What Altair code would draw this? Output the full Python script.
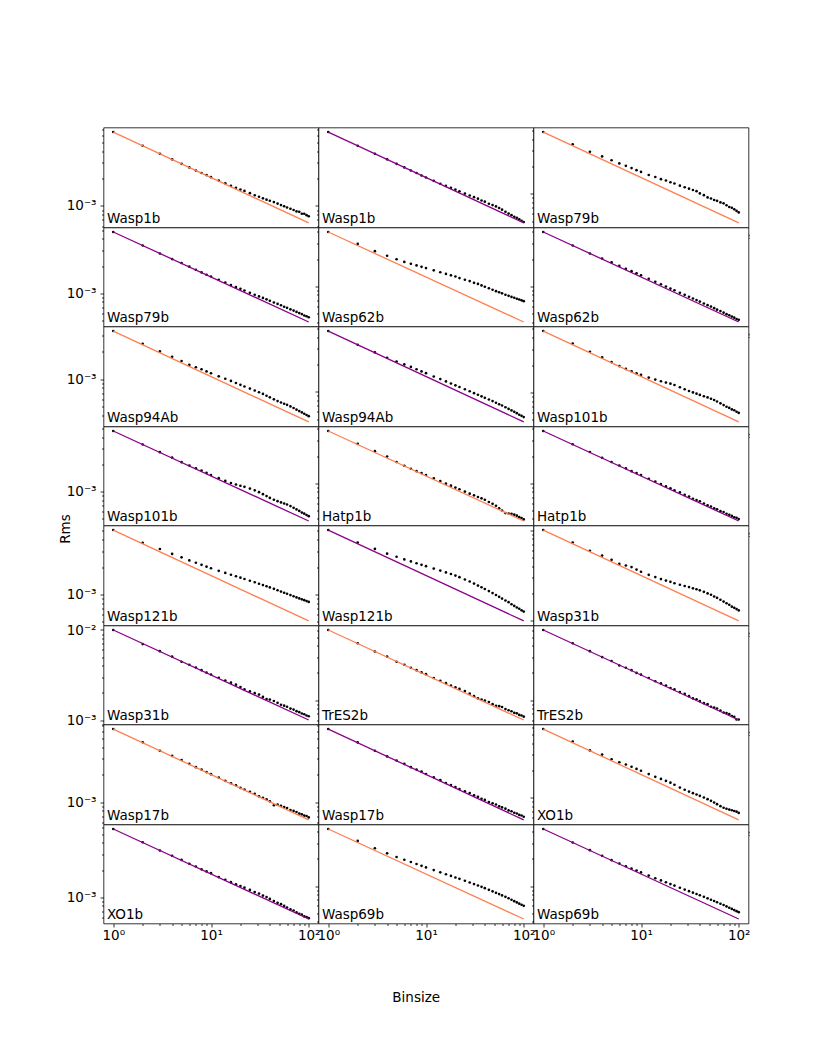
import altair as alt
import numpy as np
import pandas as pd

# ---------------- data (rms values in units of 1e-4) ----------------
binsize = [1, 2, 3, 4, 5, 6, 7, 8, 9, 10, 12, 14, 16, 18, 20, 22, 25, 28, 31, 34,
           37, 40, 44, 48, 52, 56, 60, 65, 70, 75, 80, 85, 90, 95, 100]

names = ["Wasp1b", "Wasp1b", "Wasp79b", "Wasp79b", "Wasp62b", "Wasp62b",
         "Wasp94Ab", "Wasp94Ab", "Wasp101b", "Wasp101b", "Hatp1b", "Hatp1b",
         "Wasp121b", "Wasp121b", "Wasp31b", "Wasp31b", "TrES2b", "TrES2b",
         "Wasp17b", "Wasp17b", "XO1b", "XO1b", "Wasp69b", "Wasp69b"]

line_colors = ["#ff7f50", "#8b008b"] * 12

# white-noise expectation line: value at binsize 1 and at binsize 100
line_start = [64.9, 64.9, 47.8, 47.8, 40.0, 40.0, 33.7, 46.6, 47.4, 47.4, 38.0, 38.0,
              51.2, 51.2, 100.0, 100.0, 60.0, 60.0, 63.7, 63.7, 57.1, 57.1, 43.0, 43.0]
line_end = [6.49, 6.49, 4.78, 4.78, 4.0, 4.0, 3.37, 4.66, 4.74, 4.74, 3.8, 3.8,
            5.12, 5.12, 10.0, 10.0, 6.0, 6.0, 6.37, 6.37, 5.71, 5.71, 4.3, 4.3]

rms_01 = [64.9, 45.9, 37.5, 32.5, 29.0, 26.5, 24.5, 23.0, 21.8, 20.7, 19.0, 17.7, 16.6, 15.8, 15.1, 14.6, 13.8, 13.1,
          12.6, 12.1, 11.7, 11.4, 11.0, 10.6, 10.2, 9.9, 9.6, 9.3, 9.0, 8.7, 8.6, 8.2, 8.2, 7.9, 7.7]
rms_02 = [64.9, 45.9, 37.5, 32.5, 29.0, 26.5, 24.5, 23.0, 21.6, 20.5, 18.85, 17.5, 16.6, 15.8, 15.1, 14.46, 13.65, 13.0,
          12.48, 12.0, 11.47, 11.13, 10.55, 10.21, 9.86, 9.48, 9.09, 8.61, 8.23, 7.9, 7.59, 7.39, 7.11, 6.86, 6.65]
rms_03 = [47.8, 35.1, 29.0, 25.8, 23.4, 21.6, 20.3, 19.2, 18.2, 17.4, 16.1, 15.3, 14.5, 14.0, 13.4, 13.0, 12.3, 11.8,
          11.4, 11.0, 10.7, 10.1, 9.66, 9.13, 8.88, 8.56, 8.37, 8.05, 7.85, 7.49, 7.16, 7.03, 6.75, 6.48, 6.24]
rms_04 = [47.8, 33.8, 27.6, 23.9, 21.6, 19.7, 18.2, 17.0, 16.0, 15.3, 14.1, 13.1, 12.3, 11.7, 11.2, 10.7, 10.1, 9.6,
          9.2, 8.85, 8.53, 8.23, 7.88, 7.6, 7.34, 7.07, 6.87, 6.61, 6.4, 6.19, 6.0, 5.85, 5.65, 5.54, 5.4]
rms_05 = [40.0, 29.5, 24.5, 21.8, 19.9, 18.6, 17.7, 17.0, 16.4, 15.9, 15.0, 14.3, 13.7, 13.2, 12.8, 12.3, 11.8, 11.4,
          10.9, 10.6, 10.2, 9.86, 9.48, 9.12, 8.81, 8.56, 8.32, 8.04, 7.81, 7.6, 7.43, 7.26, 7.11, 6.96, 6.82]
rms_06 = [40.0, 28.3, 23.1, 20.3, 18.4, 16.8, 15.6, 14.7, 13.9, 13.2, 12.1, 11.2, 10.5, 9.92, 9.4, 9.02, 8.46, 8.01,
          7.63, 7.29, 7.01, 6.74, 6.42, 6.15, 5.93, 5.7, 5.48, 5.29, 5.08, 4.89, 4.76, 4.59, 4.47, 4.31, 4.23]
rms_07 = [33.7, 24.45, 20.12, 17.59, 15.78, 14.3, 13.47, 12.79, 12.12, 11.57, 10.71, 10.06, 9.53, 9.04, 8.63, 8.28,
          7.85, 7.48, 7.16, 6.86, 6.55, 6.29, 5.98, 5.72, 5.51, 5.35, 5.2, 5.0, 4.8, 4.6, 4.44, 4.29, 4.15, 4.02, 3.9]
rms_08 = [46.6, 32.96, 27.13, 23.72, 21.55, 20.03, 18.78, 17.69, 16.76, 16.04, 14.74, 13.79, 13.01, 12.34, 11.78,
          11.29, 10.66, 10.14, 9.67, 9.27, 8.92, 8.59, 8.23, 7.9, 7.58, 7.29, 7.07, 6.76, 6.49, 6.24, 6.02, 5.82, 5.6,
          5.44, 5.27]
rms_09 = [47.4, 34.56, 28.08, 24.32, 21.58, 19.5, 18.15, 17.11, 16.29, 15.62, 14.58, 13.85, 13.28, 12.85, 12.51,
          12.08, 11.41, 10.84, 10.37, 10.02, 9.7, 9.41, 9.1, 8.82, 8.54, 8.27, 7.96, 7.59, 7.27, 6.96, 6.77, 6.51,
          6.37, 6.14, 5.96]
rms_10 = [47.4, 33.52, 27.59, 24.01, 21.37, 19.6, 18.3, 17.2, 16.21, 15.38, 14.17, 13.23, 12.53, 12.05, 11.67, 11.36,
          10.87, 10.38, 9.91, 9.42, 8.96, 8.55, 8.16, 7.87, 7.62, 7.41, 7.22, 6.94, 6.64, 6.37, 6.14, 5.88, 5.72,
          5.52, 5.36]
rms_11 = [38.0, 27.35, 22.68, 19.74, 17.21, 15.64, 14.48, 13.61, 12.94, 12.33, 11.31, 10.56, 9.87, 9.38, 8.93, 8.56,
          8.06, 7.65, 7.33, 7.03, 6.78, 6.54, 6.18, 5.89, 5.62, 5.26, 4.97, 4.65, 4.6, 4.56, 4.47, 4.36, 4.19, 4.1,
          3.96]
rms_12 = [38.0, 27.08, 22.22, 19.15, 17.21, 15.71, 14.67, 13.61, 12.94, 12.33, 11.2, 10.42, 9.8, 9.2, 8.78, 8.35,
          7.9, 7.42, 7.09, 6.72, 6.49, 6.29, 5.94, 5.67, 5.5, 5.27, 5.13, 4.89, 4.78, 4.58, 4.45, 4.33, 4.18, 4.12,
          3.99]
rms_13 = [51.2, 37.14, 31.66, 27.98, 25.67, 23.74, 22.37, 21.2, 20.25, 19.44, 18.21, 17.29, 16.51, 15.88, 15.34,
          14.82, 14.18, 13.65, 13.14, 12.7, 12.34, 11.98, 11.54, 11.13, 10.78, 10.46, 10.19, 9.86, 9.58, 9.3, 9.07,
          8.86, 8.67, 8.47, 8.3]
rms_14 = [51.2, 37.32, 31.75, 28.13, 26.01, 24.35, 23.12, 22.06, 21.2, 20.51, 19.3, 18.33, 17.5, 16.8, 16.15, 15.52,
          14.62, 13.89, 13.2, 12.54, 12.02, 11.51, 10.91, 10.37, 9.88, 9.43, 9.02, 8.6, 8.24, 7.82, 7.49, 7.19, 6.97,
          6.7, 6.49]
rms_15 = [100.0, 72.9, 59.24, 52.35, 47.05, 42.41, 40.79, 39.14, 36.7, 34.75, 32.13, 30.37, 28.9, 27.81, 26.92, 25.99,
          25.02, 24.25, 23.58, 22.86, 22.31, 21.72, 20.89, 20.09, 19.4, 18.6, 17.97, 17.09, 16.34, 15.67, 15.09,
          14.35, 13.94, 13.5, 13.06]
rms_16 = [100.0, 69.79, 58.2, 50.65, 44.36, 41.15, 38.29, 35.82, 33.6, 32.03, 29.48, 27.43, 25.98, 24.68, 23.23, 21.87,
          20.78, 19.88, 19.15, 18.04, 17.08, 16.85, 16.27, 15.5, 14.79, 14.42, 14.05, 13.38, 13.06, 12.53, 12.22,
          11.8, 11.6, 11.21, 11.01]
rms_17 = [60.0, 42.77, 34.64, 30.39, 26.62, 24.69, 22.86, 21.49, 20.26, 19.37, 17.55, 16.37, 15.39, 14.44, 13.83,
          13.29, 12.57, 11.78, 11.05, 10.42, 10.12, 9.86, 9.52, 9.0, 8.65, 8.55, 8.36, 7.93, 7.71, 7.51, 7.2, 7.11,
          6.83, 6.73, 6.53]
rms_18 = [60.0, 42.77, 34.92, 30.0, 27.18, 24.17, 22.86, 21.49, 20.0, 19.13, 17.55, 16.16, 15.31, 14.51, 13.59, 13.13,
          12.25, 11.69, 11.05, 10.42, 10.2, 9.73, 9.23, 9.0, 8.43, 8.27, 8.05, 7.63, 7.27, 7.17, 6.97, 6.64, 6.49,
          6.08, 6.08]
rms_19 = [63.7, 45.63, 36.78, 32.27, 29.09, 26.35, 24.27, 22.81, 21.4, 20.3, 18.63, 17.16, 16.14, 15.33, 14.35, 13.76,
          13.01, 12.35, 11.59, 11.15, 10.74, 10.2, 9.24, 9.38, 9.11, 8.84, 8.61, 8.2, 8.01, 7.8, 7.49, 7.35, 7.11,
          7.04, 6.79]
rms_20 = [63.7, 45.4, 36.78, 31.85, 28.72, 26.35, 24.27, 22.81, 21.68, 20.4, 18.78, 17.46, 16.26, 15.4, 14.68, 13.93,
          13.17, 12.6, 11.89, 11.43, 10.88, 10.59, 10.05, 9.71, 9.41, 8.99, 8.76, 8.48, 8.11, 7.94, 7.65, 7.5, 7.24,
          7.14, 6.91]
rms_21 = [57.1, 41.63, 33.23, 29.89, 26.54, 24.64, 23.28, 21.97, 20.8, 19.85, 18.24, 17.03, 16.14, 15.36, 14.69,
          13.92, 12.97, 12.26, 11.71, 11.26, 10.88, 10.52, 10.08, 9.67, 9.27, 8.89, 8.52, 8.1, 7.78, 7.58, 7.43,
          7.3, 7.16, 7.04, 6.82]
rms_22 = [57.1, 40.7, 32.97, 28.78, 25.87, 23.5, 21.86, 20.35, 19.28, 18.44, 16.69, 15.58, 14.65, 13.88, 13.27, 12.74,
          12.01, 11.4, 10.94, 10.39, 10.01, 9.54, 9.06, 8.63, 8.35, 7.98, 7.66, 7.3, 7.09, 6.76, 6.51, 6.38, 6.1,
          6.01, 5.83]
rms_23 = [43.0, 31.68, 26.25, 23.09, 21.02, 19.59, 18.46, 17.54, 16.74, 16.08, 15.02, 14.19, 13.51, 12.95, 12.44,
          12.01, 11.43, 10.95, 10.5, 10.13, 9.79, 9.47, 9.07, 8.73, 8.4, 8.13, 7.86, 7.58, 7.31, 7.03, 6.79, 6.57,
          6.37, 6.19, 6.02]
rms_24 = [43.0, 30.41, 25.03, 21.67, 19.38, 17.78, 16.6, 15.6, 14.83, 14.16, 13.05, 12.21, 11.55, 11.0, 10.51, 10.1,
          9.57, 9.13, 8.77, 8.43, 8.15, 7.89, 7.58, 7.29, 7.03, 6.81, 6.6, 6.36, 6.15, 5.93, 5.74, 5.57, 5.4, 5.25,
          5.12]

rms_series = [rms_01, rms_02, rms_03, rms_04, rms_05, rms_06, rms_07, rms_08, rms_09, rms_10, rms_11, rms_12,
              rms_13, rms_14, rms_15, rms_16, rms_17, rms_18, rms_19, rms_20, rms_21, rms_22, rms_23, rms_24]

x_tick_values = [1, 2, 3, 4, 5, 6, 7, 8, 9, 10, 20, 30, 40, 50, 60, 70, 80, 90, 100]

# ---------------- styling ----------------
FONT = "DejaVu Sans"
TXT_FS = 13.5
TICK_FS = 13.5
W = 215
ROW_H = [100, 99, 100, 99, 100, 99, 100, 99]
XDOM = [10 ** -0.1, 10 ** 2.1]
SUP = {-6: "⁻⁶", -5: "⁻⁵", -4: "⁻⁴", -3: "⁻³", -2: "⁻²", -1: "⁻¹", 0: "⁰", 1: "¹", 2: "²"}


def near(d):
    return f"(datum.value > {0.97 * 10.0 ** d:.10g} && datum.value < {1.03 * 10.0 ** d:.10g})"


def major_test(decs):
    return " || ".join(near(d) for d in decs) if decs else "false"


def label_expr(decs):
    expr = "''"
    for d in decs:
        expr = f"{near(d)} ? '10{SUP[d]}' : ({expr})"
    return expr


def tick_size(decs):
    return {"condition": {"test": major_test(decs), "value": 3.5}, "value": 2.0}


def panel(i):
    row, col = divmod(i, 3)
    pts = pd.DataFrame({"binsize": binsize, "rms": np.array(rms_series[i]) * 1e-4})
    ln = pd.DataFrame({"binsize": [binsize[0], binsize[-1]],
                       "rms": [line_start[i] * 1e-4, line_end[i] * 1e-4]})
    allv = np.concatenate([pts["rms"].to_numpy(), ln["rms"].to_numpy()])
    lo, hi = np.log10(allv.min()), np.log10(allv.max())
    m = 0.05 * (hi - lo)
    ydom = [float(10 ** (lo - m)), float(10 ** (hi + m))]
    yt = [k * 10.0 ** e for e in range(-6, 1) for k in range(1, 10)]
    yt = [v for v in yt if ydom[0] <= v <= ydom[1]]
    ydecs = [e for e in range(-6, 1) if ydom[0] <= 10.0 ** e <= ydom[1]]

    xdecs = [0, 1, 2]
    xkw = dict(values=x_tick_values, labelExpr=label_expr(xdecs), tickSize=tick_size(xdecs),
               tickColor="black", tickWidth=0.8, domain=False, grid=False, labelOverlap=False,
               labelFlush=False, labelBound=False, labelPadding=1, labelFont=FONT, labelFontSize=TICK_FS,
               labelColor="black")
    if i == 22:
        xkw.update(title="Binsize", titleX=97.2, titleY=78.3, titleAlign="center", titleBaseline="alphabetic",
                   titleFont=FONT, titleFontSize=TXT_FS, titleFontWeight="normal", titleColor="black")
    else:
        xkw.update(title=None)
    xaxis = alt.Axis(**xkw)

    ykw = dict(values=yt, tickSize=tick_size(ydecs), tickColor="black", tickWidth=0.8, domain=False,
               grid=False, labelOverlap=False, labelPadding=4, labelFont=FONT, labelFontSize=TICK_FS,
               labelColor="black")
    if col == 0:
        ykw.update(labels=True, labelExpr=label_expr(ydecs))
    else:
        ykw.update(labels=False)
    if i == 12:
        ykw.update(title="Rms", titleX=-38.3, titleY=3.0, titleAngle=270, titleAlign="center",
                   titleBaseline="middle", titleFont=FONT, titleFontSize=TXT_FS, titleFontWeight="normal",
                   titleColor="black")
    else:
        ykw.update(title=None)
    yaxis = alt.Axis(**ykw)

    xs = alt.Scale(type="log", domain=XDOM, nice=False)
    ys = alt.Scale(type="log", domain=ydom, nice=False)

    points = alt.Chart(pts).mark_circle(size=7, color="black", opacity=1).encode(
        x=alt.X("binsize:Q", scale=xs, axis=xaxis),
        y=alt.Y("rms:Q", scale=ys, axis=yaxis),
    )
    line = alt.Chart(ln).mark_line(color=line_colors[i], strokeWidth=1.3).encode(
        x=alt.X("binsize:Q", scale=xs, axis=xaxis),
        y=alt.Y("rms:Q", scale=ys, axis=yaxis),
    )
    label = alt.Chart(pd.DataFrame({"name": [names[i]]})).mark_text(
        align="left", baseline="alphabetic", dx=3.4, dy=-4.3, font=FONT, fontSize=TXT_FS, color="black"
    ).encode(
        x=alt.XDatum(XDOM[0], type="quantitative", scale=xs, axis=xaxis),
        y=alt.YDatum(ydom[0], type="quantitative", scale=ys, axis=yaxis),
        text="name:N",
    )
    return alt.layer(points, line, label).properties(width=W, height=ROW_H[row])


chart = alt.concat(*[panel(i) for i in range(24)], columns=3, spacing=0, bounds="flush").properties(
    padding={"left": 49.5, "top": 113.5, "right": 10, "bottom": 10}
)
chart = chart.configure(font=FONT).configure_view(fill="white", stroke="black", strokeWidth=0.8)

chart.save("out.html", embed_options={"renderer": "svg", "actions": False})
